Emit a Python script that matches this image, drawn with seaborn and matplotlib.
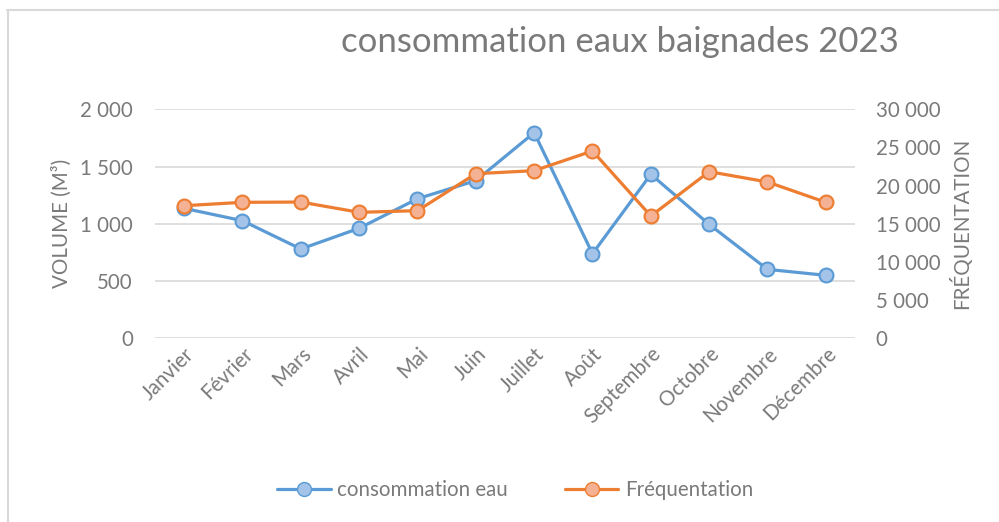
import numpy as np
import pandas as pd
import matplotlib
matplotlib.use("Agg")
import matplotlib.pyplot as plt
from matplotlib.ticker import FuncFormatter
from matplotlib.lines import Line2D
import seaborn as sns

# data
mois = ["Janvier", "Février", "Mars", "Avril", "Mai", "Juin", "Juillet",
        "Août", "Septembre", "Octobre", "Novembre", "Décembre"]
consommation = [1135, 1027, 780, 961, 1219, 1377, 1796, 739, 1432, 995, 602, 550]
frequentation = [17370, 17815, 17850, 16505, 16720, 21565, 21960, 24540,
                 16020, 21830, 20480, 17815]

blue, blue_face = "#5B9BD5", "#A3C3E8"
orange, orange_face = "#ED7D31", "#F5B193"
grey = "#7a7a7a"
fs = 14.8

sns.set_style("white")
plt.rcParams['font.family'] = ['Lato', 'DejaVu Sans']

df = pd.DataFrame({"mois": mois, "pos": np.arange(len(mois)),
                   "consommation": consommation, "frequentation": frequentation})

fig = plt.figure(figsize=(9.99, 5.22), dpi=100)
ax = fig.add_axes([155 / 999, 1 - 338.3 / 522, 700 / 999, 229 / 522])
ax2 = ax.twinx()

sns.lineplot(data=df, x="pos", y="consommation", ax=ax, color=blue, lw=2.3,
             marker="o", markersize=10, markerfacecolor=blue_face,
             markeredgecolor=blue, markeredgewidth=1.5, zorder=3)
sns.lineplot(data=df, x="pos", y="frequentation", ax=ax2, color=orange, lw=2.3,
             marker="o", markersize=10, markerfacecolor=orange_face,
             markeredgecolor=orange, markeredgewidth=1.5, zorder=3)

fmt = FuncFormatter(lambda v, p: f"{int(v):,}".replace(",", " "))

ax.set_xlim(-0.5, len(mois) - 0.5)
ax.set_ylim(0, 2000)
ax.set_yticks(range(0, 2001, 500))
ax.yaxis.set_major_formatter(fmt)
ax2.set_ylim(0, 30000)
ax2.set_yticks(range(0, 30001, 5000))
ax2.yaxis.set_major_formatter(fmt)

ax.set_xticks(df["pos"])
ax.set_xticklabels(mois, rotation=45, ha="right", rotation_mode="anchor")

ax.grid(axis="y", color="#d9d9d9", lw=1.2)
ax.set_axisbelow(True)
for a in (ax, ax2):
    for s in a.spines.values():
        s.set_visible(False)
    a.tick_params(length=0, labelsize=fs, colors=grey)
ax.tick_params(axis="y", pad=16)
ax2.tick_params(axis="y", pad=15)
ax.tick_params(axis="x", pad=4)

ax.set_xlabel("")
ax.set_ylabel("VOLUME (M³)", fontsize=fs, color=grey, labelpad=6)
ax2.set_ylabel("FRÉQUENTATION", fontsize=fs, color=grey, labelpad=6)

fig.text(620 / 999, 1 - 42 / 522, "consommation eaux baignades 2023",
         ha="center", va="center", fontsize=25, color=grey)

handles = [
    Line2D([], [], color=blue, lw=2.3, marker="o", markersize=10,
           markerfacecolor=blue_face, markeredgecolor=blue),
    Line2D([], [], color=orange, lw=2.3, marker="o", markersize=10,
           markerfacecolor=orange_face, markeredgecolor=orange),
]
fig.legend(handles, ["consommation eau", "Fréquentation"], loc="center",
           bbox_to_anchor=(515 / 999, 1 - 490 / 522), ncol=2, frameon=False,
           fontsize=fs, labelcolor=grey, handlelength=2.6, columnspacing=2.8,
           handletextpad=0.3)

# chart area border (top and left visible)
fig.add_artist(Line2D([7 / 999, 1], [1 - 10 / 522, 1 - 10 / 522],
                      transform=fig.transFigure, color="#d9d9d9", lw=1.5))
fig.add_artist(Line2D([8 / 999, 8 / 999], [0, 1 - 10 / 522],
                      transform=fig.transFigure, color="#d9d9d9", lw=1.5))

fig.savefig("out.png", dpi=100)
